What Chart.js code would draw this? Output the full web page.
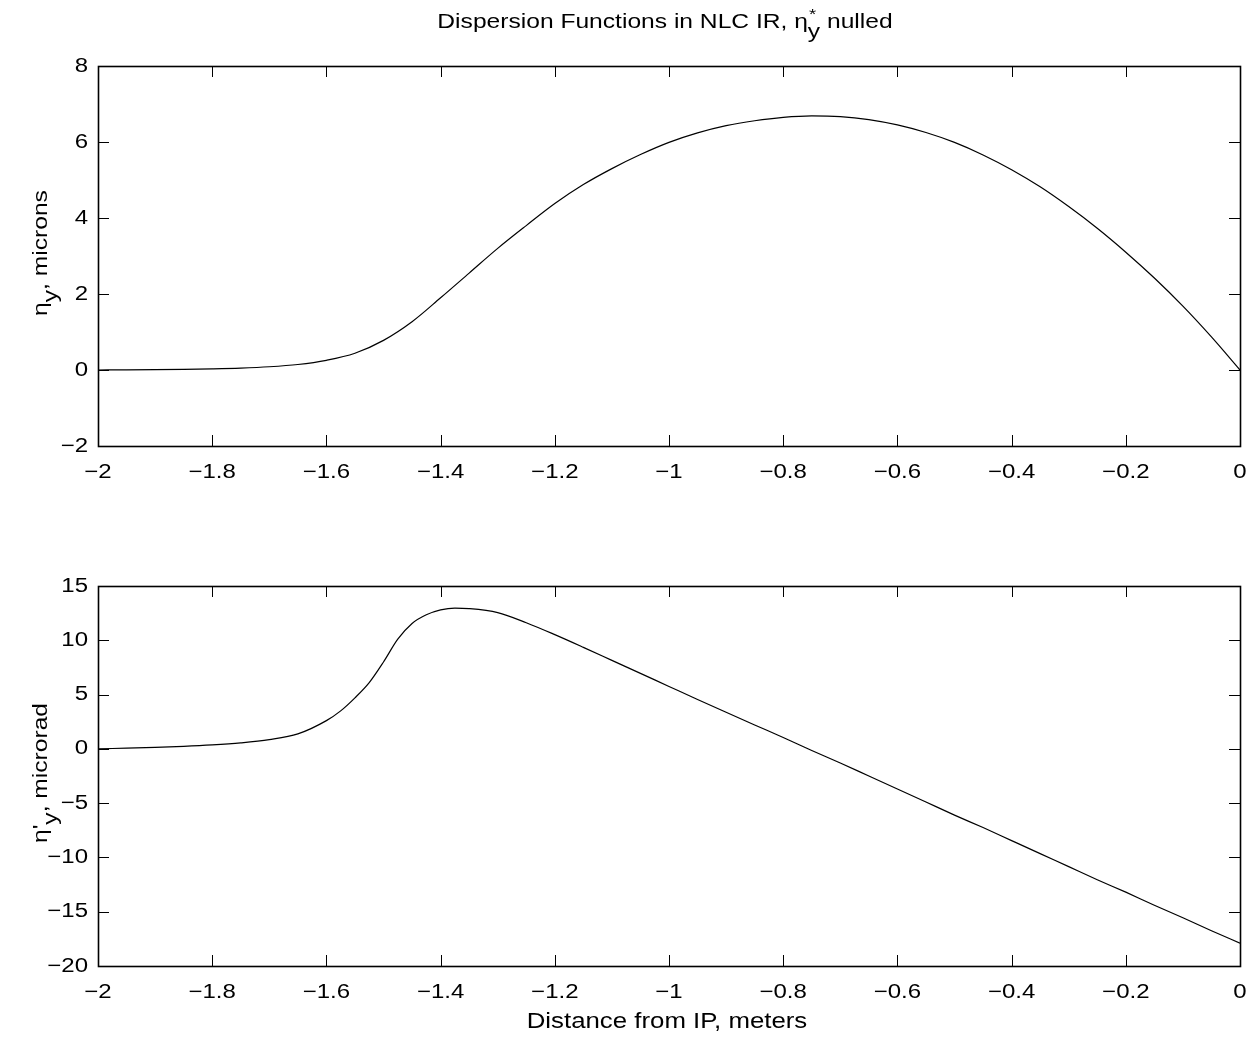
<!DOCTYPE html>
<html><head><meta charset="utf-8">
<script src="https://cdn.jsdelivr.net/npm/chart.js@4.4.1/dist/chart.umd.min.js"></script>
<style>
html,body{margin:0;padding:0;background:#fff;}
#wrap{position:relative;width:1257px;height:1040px;background:#fff;}
.box{position:absolute;left:0;width:1257px;height:520px;}
</style></head><body>
<div id="wrap">
<div class="box" style="top:0"><canvas id="c1" width="1257" height="520"></canvas></div>
<div class="box" style="top:520px"><canvas id="c2" width="1257" height="520"></canvas></div>
</div>
<script>
// ---- data ----
const etaX = [-2,-1.95,-1.9,-1.85,-1.8,-1.75,-1.7,-1.65,-1.6,-1.55,-1.5,-1.45,-1.4,-1.35,-1.3,-1.25,-1.2,-1.15,-1.1,-1.05,-1,-0.95,-0.9,-0.85,-0.8,-0.75,-0.7,-0.65,-0.6,-0.55,-0.5,-0.45,-0.4,-0.35,-0.3,-0.25,-0.2,-0.15,-0.1,-0.05,0];
const etaY = [0,0.003,0.008,0.017,0.03,0.05,0.085,0.145,0.255,0.44,0.78,1.27,1.9,2.55,3.2,3.8,4.38,4.88,5.3,5.67,5.99,6.24,6.43,6.56,6.65,6.69,6.67,6.59,6.45,6.25,5.99,5.66,5.27,4.82,4.3,3.73,3.1,2.42,1.68,0.87,0];
const etapX = [-2,-1.95,-1.9,-1.85,-1.8,-1.75,-1.7,-1.65,-1.6,-1.575,-1.55,-1.525,-1.5,-1.475,-1.45,-1.425,-1.4,-1.375,-1.35,-1.3,-1.25,-1.2,-1.15,-1.1,-1.05,-1,-0.95,-0.9,-0.85,-0.8,-0.75,-0.7,-0.65,-0.6,-0.55,-0.5,-0.45,-0.4,-0.35,-0.3,-0.25,-0.2,-0.15,-0.1,-0.05,0];
const etapY = [0,0.07,0.14,0.23,0.36,0.55,0.85,1.38,2.6,3.5,4.7,6.1,8.0,10.1,11.55,12.35,12.8,12.97,12.92,12.55,11.62,10.52,9.35,8.15,6.95,5.75,4.55,3.37,2.2,1.05,-0.15,-1.3,-2.5,-3.7,-4.9,-6.1,-7.25,-8.45,-9.65,-10.85,-12.05,-13.2,-14.4,-15.55,-16.75,-17.9];
const xTicks = [-2,-1.8,-1.6,-1.4,-1.2,-1,-0.8,-0.6,-0.4,-0.2,0];
const etaTicks = [-2,0,2,4,6,8];
const etapTicks = [-20,-15,-10,-5,0,5,10,15];

const FONT = '"Liberation Sans", Arial, Helvetica, sans-serif';
const TICK_SIZE = 20;
const STRETCH = 1.2;

function fmt(v){
  const r = Math.round(v*10)/10;
  const s = String(Math.abs(r));
  return (r < 0 ? '\u2212' : '') + s;
}

// rich text: items {t} or {sub, sup}
function measureRich(ctx, items, size){
  let w = 0;
  items.forEach(it => {
    if (it.t !== undefined){ ctx.font = size + 'px ' + FONT; w += ctx.measureText(it.t).width; }
    else {
      ctx.font = size + 'px ' + FONT;
      const a = it.sub ? ctx.measureText(it.sub).width : 0;
      ctx.font = (size*0.75) + 'px ' + FONT;
      const b = it.sup ? ctx.measureText(it.sup).width : 0;
      w += Math.max(a, b);
    }
  });
  return w;
}
function drawRich(ctx, items, cx, by, size, rot){
  ctx.save();
  ctx.translate(cx, by);
  if (rot) ctx.rotate(rot);
  ctx.scale(STRETCH, 1);
  const w = measureRich(ctx, items, size);
  let x = -w/2;
  ctx.fillStyle = '#000';
  ctx.textBaseline = 'alphabetic';
  ctx.textAlign = 'left';
  items.forEach(it => {
    if (it.t !== undefined){
      ctx.font = size + 'px ' + FONT;
      ctx.fillText(it.t, x, 0);
      x += ctx.measureText(it.t).width;
    } else {
      let adv = 0;
      if (it.sub){ ctx.font = size + 'px ' + FONT; ctx.fillText(it.sub, x, size*0.5); adv = Math.max(adv, ctx.measureText(it.sub).width); }
      if (it.sup){ ctx.font = (size*0.75) + 'px ' + FONT; ctx.fillText(it.sup, x + 1, -size*0.45); adv = Math.max(adv, ctx.measureText(it.sup).width); }
      x += adv;
    }
  });
  ctx.restore();
}
function drawStretched(ctx, text, x, y, align, base){
  ctx.save();
  ctx.translate(x, y);
  ctx.scale(STRETCH, 1);
  ctx.font = TICK_SIZE + 'px ' + FONT;
  ctx.fillStyle = '#000';
  ctx.textAlign = align;
  ctx.textBaseline = base;
  ctx.fillText(text, 0, 0);
  ctx.restore();
}

const frameTicks = {
  id: 'frameTicks',
  afterDraw(chart){
    const {ctx, chartArea: a, scales: {x, y}} = chart;
    const L = 11;
    ctx.save();
    ctx.strokeStyle = '#000';
    ctx.lineWidth = 1;
    ctx.beginPath();
    x.ticks.forEach(t => {
      const px = Math.round(x.getPixelForValue(t.value)) + 0.5;
      ctx.moveTo(px, a.bottom); ctx.lineTo(px, a.bottom - L);
      ctx.moveTo(px, a.top); ctx.lineTo(px, a.top + L);
    });
    y.ticks.forEach(t => {
      const py = Math.round(y.getPixelForValue(t.value)) + 0.5;
      ctx.moveTo(a.left, py); ctx.lineTo(a.left + L, py);
      ctx.moveTo(a.right, py); ctx.lineTo(a.right - L, py);
    });
    ctx.stroke();
    ctx.lineWidth = 1.6;
    ctx.strokeRect(Math.round(a.left)+0.5, Math.round(a.top)+0.5, Math.round(a.width), Math.round(a.height));
    ctx.restore();
    // tick labels from the library's scales
    x.ticks.forEach(t => drawStretched(ctx, fmt(t.value), x.getPixelForValue(t.value), a.bottom + 26, 'center', 'middle'));
    y.ticks.forEach(t => drawStretched(ctx, fmt(t.value), a.left - 10, y.getPixelForValue(t.value), 'right', 'middle'));
    const cfg = chart.options.plugins.richLabels;
    const cx = (a.left + a.right)/2, cy = (a.top + a.bottom)/2;
    if (cfg.title) drawRich(ctx, cfg.title, cx - 4, 28, 20.5, 0);
    if (cfg.ylabel) drawRich(ctx, cfg.ylabel, 47, cy - 3, 20.5, -Math.PI/2);
    if (cfg.xlabel) drawRich(ctx, cfg.xlabel, cx - 2, 508, 21.5, 0);
  }
};

function makeChart(id, xs, ys, yTicks, ymin, ymax, labels){
  const pts = xs.map((v, i) => ({x: v, y: ys[i]}));
  return new Chart(document.getElementById(id), {
    type: 'line',
    data: {datasets: [{data: pts, borderColor: '#000', borderWidth: 1.2, pointRadius: 0, fill: false, cubicInterpolationMode: 'monotone'}]},
    options: {
      responsive: false, animation: false, devicePixelRatio: 1,
      layout: {padding: {left: 0, right: 17, top: 66, bottom: 34}},
      plugins: {legend: {display: false}, tooltip: {enabled: false}, title: {display: false}, richLabels: labels},
      scales: {
        x: {
          type: 'linear', min: -2, max: 0,
          grid: {display: false, drawTicks: false}, border: {display: false},
          afterBuildTicks: s => { s.ticks = xTicks.map(v => ({value: v})); },
          afterFit: s => { s.height = 40; s.paddingLeft = 0; s.paddingRight = 0; },
          ticks: {display: false, autoSkip: false, callback: v => fmt(v)}
        },
        y: {
          type: 'linear', min: ymin, max: ymax,
          grid: {display: false, drawTicks: false}, border: {display: false},
          afterBuildTicks: s => { s.ticks = yTicks.map(v => ({value: v})); },
          afterFit: s => { s.width = 98; s.paddingTop = 0; s.paddingBottom = 0; },
          ticks: {display: false, autoSkip: false, callback: v => fmt(v)}
        }
      }
    },
    plugins: [frameTicks]
  });
}

makeChart('c1', etaX, etaY, etaTicks, -2, 8, {
  title: [{t: 'Dispersion Functions in NLC IR, \u03B7'}, {sub: 'y', sup: '*'}, {t: ' nulled'}],
  ylabel: [{t: '\u03B7'}, {sub: 'y'}, {t: ', microns'}]
});
makeChart('c2', etapX, etapY, etapTicks, -20, 15, {
  ylabel: [{t: '\u03B7\''}, {sub: 'y'}, {t: ', microrad'}],
  xlabel: [{t: 'Distance from IP, meters'}]
});
</script>
</body></html>
